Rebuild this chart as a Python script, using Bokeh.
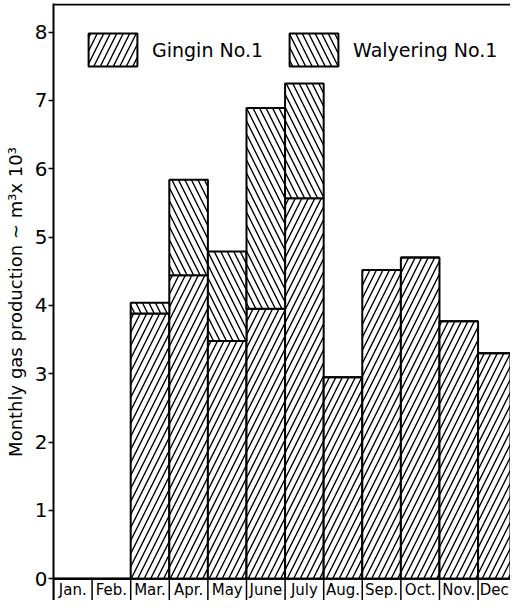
from bokeh.plotting import figure
from bokeh.models import Range1d, FixedTicker, Span, ColumnDataSource
from bokeh.core.properties import value
from bokeh.embed import file_html
from bokeh.resources import INLINE
import numpy as np

months = ["Jan.", "Feb.", "Mar.", "Apr.", "May", "June", "July", "Aug.", "Sep.", "Oct.", "Nov.", "Dec"]
gingin = [0, 0, 3.88, 4.44, 3.48, 3.95, 5.57, 2.95, 4.52, 4.70, 3.77, 3.30]
walyering = [0, 0, 0.16, 1.40, 1.31, 2.94, 1.68, 0, 0, 0, 0, 0]
yticks = [0, 1, 2, 3, 4, 5, 6, 7, 8]

FONT = "DejaVu Sans"
X_END = 11.84

x = np.arange(len(months)) + 0.5
src = ColumnDataSource(dict(x=x, gingin=gingin, walyering=walyering))

p = figure(width=510, height=600, output_backend="svg", toolbar_location=None,
           x_range=Range1d(0, X_END), y_range=Range1d(-0.32, 8.42),
           min_border_left=53, min_border_right=0, min_border_top=3, min_border_bottom=0)
p.xaxis.visible = False
p.xgrid.visible = False
p.ygrid.visible = False
p.outline_line_color = None
p.background_fill_color = "white"

p.yaxis.ticker = FixedTicker(ticks=yticks)
p.yaxis.axis_line_width = 2
p.yaxis.major_tick_line_width = 1.5
p.yaxis.major_tick_out = 5
p.yaxis.major_tick_in = 0
p.yaxis.minor_tick_line_color = None
p.yaxis.major_label_text_font = FONT
p.yaxis.major_label_text_font_size = "20px"
p.yaxis.major_label_text_color = "black"
p.yaxis.major_label_standoff = 1
p.yaxis.axis_label = "Monthly gas production ~ m³x 10³"
p.yaxis.axis_label_text_font = FONT
p.yaxis.axis_label_text_font_size = "18px"
p.yaxis.axis_label_text_font_style = "normal"
p.yaxis.axis_label_text_color = "black"
p.yaxis.axis_label_standoff = 6

renderers = p.vbar_stack(["gingin", "walyering"], x="x", width=1, source=src,
                         fill_color="white", line_color="black", line_width=2,
                         hatch_pattern=["/", "\\"], hatch_color="black",
                         hatch_scale=13, hatch_weight=1.4,
                         legend_label=["Gingin No.1", "Walyering No.1"])

# axis line at zero and top border
p.add_layout(Span(location=0, dimension="width", line_color="black", line_width=2))
p.add_layout(Span(location=8.405, dimension="width", line_color="black", line_width=2))

# month separators and labels (label centred in the visible part of each cell)
edges = np.arange(len(months) + 1)
p.segment(x0=edges, y0=[0] * len(edges), x1=edges, y1=[-0.32] * len(edges),
          line_color="black", line_width=1.5)
lab_x = (edges[:-1] + np.minimum(edges[1:], X_END)) / 2
p.text(x=lab_x, y=[-0.165] * len(months), text=months, text_align="center",
       text_baseline="middle", text_font=value(FONT), text_font_size="15px",
       text_color="black")

lg = p.legend[0]
lg.orientation = "horizontal"
lg.location = (29, 530)
lg.padding = 0
lg.margin = 0
lg.glyph_width = 61
lg.glyph_height = 41
lg.label_standoff = 9
lg.spacing = 20
lg.label_text_font = FONT
lg.label_text_font_size = "19px"
lg.label_text_color = "black"
lg.background_fill_alpha = 0
lg.border_line_color = None

open("out.html", "w").write(file_html(p, INLINE))
